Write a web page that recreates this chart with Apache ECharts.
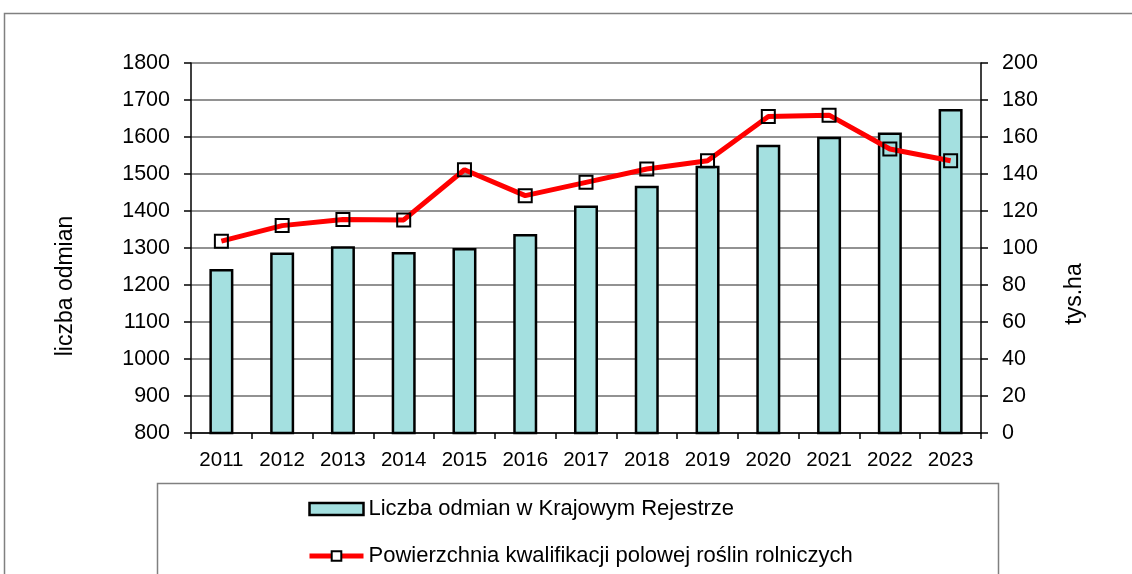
<!DOCTYPE html>
<html><head><meta charset="utf-8">
<script src="https://cdn.jsdelivr.net/npm/echarts@6/dist/echarts.min.js"></script>
<style>html,body{margin:0;padding:0;background:#fff}#c{width:1132px;height:574px}</style>
</head><body><div id="c"></div>
<script>
const years = ['2011','2012','2013','2014','2015','2016','2017','2018','2019','2020','2021','2022','2023'];
const varieties = [1243, 1288, 1305, 1289, 1300, 1338, 1415, 1468, 1522, 1579, 1601, 1612, 1676];
const areaThHa = [103.7, 112.1, 115.4, 115.2, 142.3, 128.3, 135.5, 142.7, 147.2, 171.1, 171.8, 153.5, 147.2];
const seriesNames = ['Liczba odmian w Krajowym Rejestrze', 'Powierzchnia kwalifikacji polowej roślin rolniczych'];
const axisNames = ['liczba odmian', 'tys.ha'];

const font = 'Liberation Sans, Arial, sans-serif';
const chart = echarts.init(document.getElementById('c'), null, {renderer: 'canvas'});
chart.setOption({
  animation: false,
  backgroundColor: '#fff',
  textStyle: {fontFamily: font, color: '#000'},
  graphic: [
    {type: 'rect', shape: {x: 4.5, y: 13.5, width: 1200, height: 700}, style: {fill: 'none', stroke: '#808080', lineWidth: 1.5}, silent: true, z: -10},
    {type: 'rect', shape: {x: 157.5, y: 483.5, width: 841, height: 200}, style: {fill: 'none', stroke: '#808080', lineWidth: 1.5}, silent: true, z: -10},
    {type: 'text', x: 66, y: 286, rotation: Math.PI / 2, style: {text: axisNames[0], x: 0, y: 0, align: 'center', verticalAlign: 'middle', font: '23px ' + font, fill: '#000'}, silent: true},
    {type: 'text', x: 1075, y: 294, rotation: Math.PI / 2, style: {text: axisNames[1], x: 0, y: 0, align: 'center', verticalAlign: 'middle', font: '23px ' + font, fill: '#000'}, silent: true}
  ],
  grid: {left: 191, right: 151, top: 63, bottom: 141, containLabel: false},
  legend: {
    orient: 'vertical', left: 307, top: 498, width: 700, height: 200, itemGap: 25, itemWidth: 54, itemHeight: 12,
    padding: 0,
    textStyle: {fontFamily: font, fontSize: 22, lineHeight: 22, color: '#000'},
    data: [
      {name: seriesNames[0], icon: 'rect', itemStyle: {color: '#a4e0e0', borderColor: '#000', borderWidth: 2.5}},
      {name: seriesNames[1], itemStyle: {color: '#fff', borderColor: '#000', borderWidth: 2}, lineStyle: {color: '#ff0000', width: 5}}
    ]
  },
  xAxis: {
    type: 'category', data: years, boundaryGap: true,
    axisLine: {lineStyle: {color: '#000', width: 1.5}},
    axisTick: {show: true, length: 6, interval: 0, lineStyle: {color: '#000', width: 1.5}},
    axisLabel: {fontFamily: font, fontSize: 20.5, color: '#000', margin: 17, interval: 0}
  },
  yAxis: [
    {
      type: 'value', min: 800, max: 1800, interval: 100, position: 'left',
      axisLine: {show: true, lineStyle: {color: '#000', width: 1.5}},
      axisTick: {show: true, length: 7, lineStyle: {color: '#000', width: 1.5}},
      axisLabel: {fontFamily: font, fontSize: 21.5, color: '#000', margin: 21, formatter: v => String(v)},
      splitLine: {show: true, lineStyle: {color: '#6e6e6e', width: 1.5}}
    },
    {
      type: 'value', min: 0, max: 200, interval: 20, position: 'right',
      axisLine: {show: true, lineStyle: {color: '#000', width: 1.5}},
      axisTick: {show: true, length: 7, lineStyle: {color: '#000', width: 1.5}},
      axisLabel: {fontFamily: font, fontSize: 21.5, color: '#000', margin: 21, formatter: v => String(v)},
      splitLine: {show: false}
    }
  ],
  series: [
    {
      name: seriesNames[0], type: 'bar', yAxisIndex: 0, data: varieties, barWidth: 24,
      itemStyle: {color: '#a4e0e0', borderColor: '#000', borderWidth: 2.5}
    },
    {
      name: seriesNames[1], type: 'line', yAxisIndex: 1, data: areaThHa,
      lineStyle: {color: '#ff0000', width: 5}, symbol: 'rect', symbolSize: 13,
      itemStyle: {color: 'rgba(255,255,255,0)', borderColor: '#000', borderWidth: 2}, z: 5
    }
  ]
});
</script></body></html>
